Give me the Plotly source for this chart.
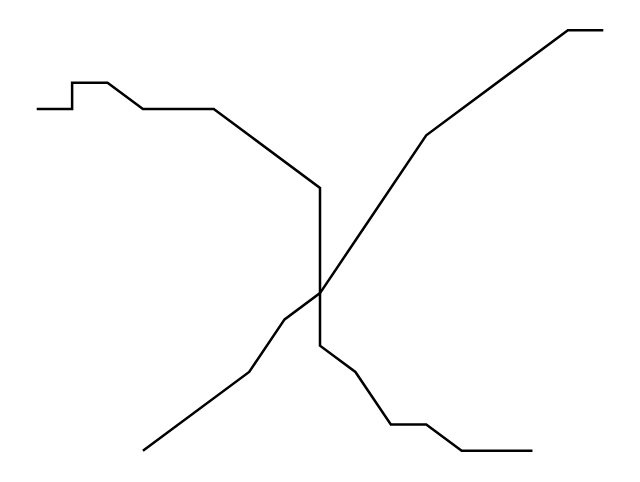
import plotly.graph_objects as go

line1_x = [0, 1, 1, 2, 3, 5, 6, 7, 8, 8, 9, 10, 11, 12, 14]
line1_y = [13, 13, 14, 14, 13, 13, 12, 11, 10, 4, 3, 1, 1, 0, 0]
line2_x = [3, 4, 5, 6, 7, 8, 9, 10, 11, 12, 13, 14, 15, 16]
line2_y = [0, 1, 2, 3, 5, 6, 8, 10, 12, 13, 14, 15, 16, 16]

fig = go.Figure()
fig.add_trace(go.Scatter(x=line1_x, y=line1_y, mode="lines",
                         line=dict(color="black", width=2.5), showlegend=False))
fig.add_trace(go.Scatter(x=line2_x, y=line2_y, mode="lines",
                         line=dict(color="black", width=2.5), showlegend=False))

fig.update_layout(
    width=640, height=482,
    margin=dict(l=11, r=27, t=9, b=26),
    paper_bgcolor="white", plot_bgcolor="white",
    xaxis=dict(range=[-0.5, 16.5], visible=False),
    yaxis=dict(range=[-0.5, 16.5], visible=False),
)
fig.write_html("out.html")
